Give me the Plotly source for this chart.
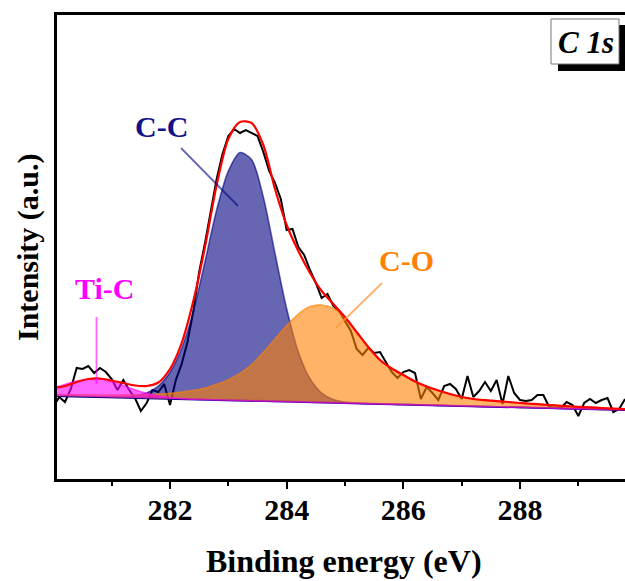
import plotly.graph_objects as go

# ---------------- data ----------------
# Fitted curves, sampled every 0.2 eV
fit_energy = [280.0, 280.2, 280.4, 280.6, 280.8, 281.0, 281.2, 281.4, 281.6, 281.8,
              282.0, 282.2, 282.4, 282.6, 282.8, 283.0, 283.2, 283.4, 283.6, 283.8,
              284.0, 284.2, 284.4, 284.6, 284.8, 285.0, 285.2, 285.4, 285.6, 285.8,
              286.0, 286.2, 286.4, 286.6, 286.8, 287.0, 287.2, 287.4, 287.6, 287.8,
              288.0, 288.2, 288.4, 288.6, 288.8, 289.0, 289.2, 289.4, 289.6, 289.8]

background = [83.1, 82.8, 82.5, 82.2, 81.9, 81.6, 81.4, 81.1, 80.8, 80.5,
              80.2, 79.9, 79.6, 79.4, 79.1, 78.8, 78.5, 78.2, 77.9, 77.6,
              77.3, 77.1, 76.8, 76.5, 76.2, 75.9, 75.6, 75.3, 75.0, 74.8,
              74.5, 74.2, 73.9, 73.6, 73.3, 73.0, 72.7, 72.4, 72.2, 71.9,
              71.6, 71.3, 71.0, 70.7, 70.4, 70.1, 69.9, 69.6, 69.3, 69.0]

# component heights above the background
peak_cc = [0, 0, 0, 0, 0, 0.2, 0.6, 1.9, 5.2, 12.4,
           26.5, 50.8, 88, 138, 190, 229, 248, 241, 204, 148,
           93, 50, 23.5, 9.5, 3.3, 1.0, 0.2, 0, 0, 0,
           0, 0, 0, 0, 0, 0, 0, 0, 0, 0,
           0, 0, 0, 0, 0, 0, 0, 0, 0, 0]

peak_co = [1.5, 1.6, 1.8, 2.0, 2.1, 2.4, 2.7, 3.1, 3.6, 4.4,
           5.4, 7.0, 9.0, 11.5, 15.6, 20.5, 27.3, 36.1, 48.8, 62.4,
           76.1, 87.8, 95.6, 97.5, 94.5, 85, 71, 56, 44, 36,
           29.5, 23.5, 18.5, 14.8, 11.6, 9.0, 7.3, 6.3, 5.5, 5.0,
           4.3, 3.8, 3.3, 2.8, 2.3, 2.0, 1.7, 1.3, 1.0, 0.7]

peak_tic = [7.9, 11.8, 15.4, 17.6, 17.8, 15.7, 12.1, 8.2, 4.9, 2.6,
            1.2, 0.5, 0.2, 0, 0, 0, 0, 0, 0, 0,
            0, 0, 0, 0, 0, 0, 0, 0, 0, 0,
            0, 0, 0, 0, 0, 0, 0, 0, 0, 0,
            0, 0, 0, 0, 0, 0, 0, 0, 0, 0]

envelope = [91, 93, 97, 100, 100.5, 98.5, 96, 93.5, 93, 96.5,
            110, 136, 178, 232, 294, 340, 357, 356, 334, 290,
            254, 228, 206, 188, 175, 162, 147, 132, 119, 110.5,
            104, 97.5, 92.5, 88.5, 85, 82, 80, 78.8, 77.8, 77,
            76, 75.2, 74.4, 73.6, 72.8, 72.2, 71.6, 71, 70.4, 69.8]

# Measured spectrum, every 0.1 eV
raw_energy = [280.0, 280.1, 280.2, 280.3, 280.4, 280.5, 280.6, 280.7, 280.8, 280.9,
              281.0, 281.1, 281.2, 281.3, 281.4, 281.5, 281.6, 281.7, 281.8, 281.9,
              282.0, 282.1, 282.2, 282.3, 282.4, 282.5, 282.6, 282.7, 282.8, 282.9,
              283.0, 283.1, 283.2, 283.3, 283.4, 283.5, 283.6, 283.7, 283.8, 283.9,
              284.0, 284.1, 284.2, 284.3, 284.4, 284.5, 284.6, 284.7, 284.8, 284.9,
              285.0, 285.1, 285.2, 285.3, 285.4, 285.5, 285.6, 285.7, 285.8, 285.9,
              286.0, 286.1, 286.2, 286.3, 286.4, 286.5, 286.6, 286.7, 286.8, 286.9,
              287.0, 287.1, 287.2, 287.3, 287.4, 287.5, 287.6, 287.7, 287.8, 287.9,
              288.0, 288.1, 288.2, 288.3, 288.4, 288.5, 288.6, 288.7, 288.8, 288.9,
              289.0, 289.1, 289.2, 289.3, 289.4, 289.5, 289.6, 289.7, 289.8]
raw_counts = [72, 82, 77, 90, 111, 110, 113, 106, 111, 107,
              100, 89, 99, 89, 81, 68, 76, 89, 87, 95,
              74, 99, 115, 137, 168, 207, 236, 268, 300, 325,
              343, 350, 346, 349, 346, 343, 327, 308, 296, 280,
              249, 250, 232, 224, 209, 196, 181, 185, 173, 168,
              158, 148, 130, 124, 131, 126, 127, 117, 107, 101,
              107, 109, 106, 80, 92, 86, 79, 93, 95, 90,
              80, 103, 82, 88, 97, 88, 99, 75, 103, 86,
              79, 78, 79, 84, 84, 72, 71, 71, 77, 74,
              63, 76, 80, 76, 79, 81, 67, 70, 80]

x_ticks = [282, 284, 286, 288]
x_minor = [281, 283, 285, 287, 289]
labels = ["C-C", "C-O", "Ti-C"]

# ---------------- styling ----------------
SERIF = "Liberation Serif, Times New Roman, serif"
NAVY_FILL = "rgba(0,0,128,0.6)"
ORANGE_FILL = "rgba(255,128,0,0.6)"
MAGENTA_FILL = "rgba(255,0,255,0.6)"

W, H = 625, 581
L, R, T, B = 57, 0, 15, 102
PW, PH = W - L - R, H - T - B


def px(xp):
    return (xp - L) / PW


def py(yp):
    return (H - B - yp) / PH


fig = go.Figure()

# raw spectrum (drawn first, fills lie over it)
fig.add_trace(go.Scatter(x=raw_energy, y=raw_counts, mode="lines",
                         line=dict(color="black", width=2), showlegend=False,
                         hoverinfo="skip"))

# background line
fig.add_trace(go.Scatter(x=fit_energy, y=background, mode="lines",
                         line=dict(color="#0a0a80", width=2), showlegend=False,
                         hoverinfo="skip"))

components = [(peak_cc, NAVY_FILL), (peak_co, ORANGE_FILL), (peak_tic, MAGENTA_FILL)]
for comp, col in components:
    fig.add_trace(go.Scatter(x=fit_energy, y=background, mode="lines",
                             line=dict(width=0, color="rgba(0,0,0,0)"),
                             showlegend=False, hoverinfo="skip"))
    yvals = [b + c for b, c in zip(background, comp)]
    fig.add_trace(go.Scatter(x=fit_energy, y=yvals, mode="lines",
                             line=dict(color=col, width=1.6, shape="spline", smoothing=0.8),
                             fill="tonexty", fillcolor=col,
                             showlegend=False, hoverinfo="skip"))

# fit envelope
fig.add_trace(go.Scatter(x=fit_energy, y=envelope, mode="lines",
                         line=dict(color="#ff0000", width=2.2, shape="spline", smoothing=0.8),
                         showlegend=False, hoverinfo="skip"))

font_bold = dict(family=SERIF, size=30, color="black", weight="bold")

fig.update_xaxes(range=[280.063, 289.80], showline=True, linecolor="black", linewidth=2.5,
                 mirror=True, ticks="outside", ticklen=7, tickwidth=2.2, tickcolor="black",
                 tickvals=x_ticks, ticktext=[str(v) for v in x_ticks],
                 ticklabelstandoff=-5,
                 showgrid=False, zeroline=False, tickfont=font_bold,
                 minor=dict(ticks="outside", ticklen=4, tickwidth=2, tickcolor="black",
                            tickvals=x_minor, showgrid=False))
fig.update_yaxes(range=[0, 464], showline=True, linecolor="black", linewidth=2.5,
                 mirror=False, ticks="", showticklabels=False, showgrid=False, zeroline=False)

shapes = [
    # pointer lines
    dict(type="line", xref="paper", yref="paper", x0=px(181), y0=py(148), x1=px(238), y1=py(206),
         line=dict(color=NAVY_FILL, width=1.8)),
    dict(type="line", xref="paper", yref="paper", x0=px(382), y0=py(283), x1=px(336), y1=py(328),
         line=dict(color="rgba(255,150,60,0.75)", width=1.8)),
    dict(type="line", xref="paper", yref="paper", x0=px(96.5), y0=py(317), x1=px(96.5), y1=py(384),
         line=dict(color=MAGENTA_FILL, width=1.8)),
    # label box shadow and box
    dict(type="rect", xref="paper", yref="paper", x0=px(558), y0=py(25), x1=px(632), y1=py(71),
         fillcolor="black", line=dict(width=0)),
    dict(type="rect", xref="paper", yref="paper", x0=px(551), y0=py(19), x1=px(619), y1=py(64),
         fillcolor="white", line=dict(color="#777777", width=1)),
]


def ann(text, x, y, color, size=30, angle=0):
    return dict(text=text, xref="paper", yref="paper", x=px(x), y=py(y), showarrow=False,
                xanchor="center", yanchor="middle", textangle=angle,
                font=dict(family=SERIF, size=size, color=color, weight="bold"))


annotations = [
    ann(labels[0], 161, 126, "#12128c"),
    ann(labels[1], 406, 260, "#ff8000"),
    ann(labels[2], 104, 289, "#ff00ff"),
    ann("<i>C 1s</i>", 586, 43, "black", size=31),
    ann("Binding energy (eV)", 344, 561, "black", size=32),
    ann("Intensity (a.u.)", 28, 247, "black", size=30, angle=-90),
]

fig.update_layout(width=W, height=H, margin=dict(l=L, r=R, t=T, b=B, pad=0),
                  plot_bgcolor="white", paper_bgcolor="white",
                  shapes=shapes, annotations=annotations, showlegend=False)

fig.write_html("out.html", config={"displayModeBar": False},
               post_script="document.body.style.margin='0px';")
